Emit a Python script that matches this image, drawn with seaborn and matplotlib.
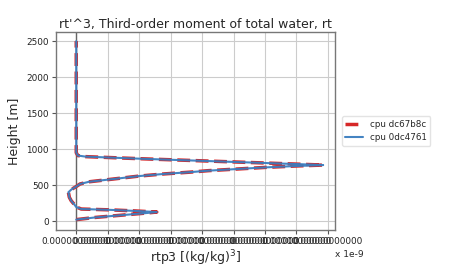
import numpy as np
import pandas as pd
import matplotlib
matplotlib.use("Agg")
import matplotlib.pyplot as plt
import seaborn as sns

# Heights [m] and rtp3 values (in units of 1e-9 tick spacing)
height = [20, 50, 80, 110, 125, 140, 155, 167, 195, 240, 282, 330, 400, 440, 480,
          515, 545, 570, 600, 625, 655, 680, 700, 720, 745, 765, 778,
          790, 805, 820, 835, 850, 865, 880, 895, 910, 950, 1000, 1250,
          1500, 1750, 2000, 2250, 2500]
rtp3_a = [0.0, 0.6, 1.4, 2.2, 2.56, 1.9, 1.1, 0.16, 0.0, -0.08, -0.16, -0.22, -0.25, -0.15, 0.0,
          0.12, 0.4, 0.9, 1.5, 2.0, 2.8, 3.64, 4.2, 5.0, 6.0, 7.0, 7.85,
          7.1, 6.1, 5.1, 4.1, 3.1, 2.1, 1.2, 0.3, 0.05, 0.0, 0.0, 0.0,
          0.0, 0.0, 0.0, 0.0, 0.0]
rtp3_b = list(rtp3_a)
series_names = ["cpu dc67b8c", "cpu 0dc4761"]
x_ticks = [0, 1, 2, 3, 4, 5, 6, 7, 8]
x_tick_labels = ["0.00000000000"] * 9
y_ticks = [0, 500, 1000, 1500, 2000, 2500]

title = "rt'^3, Third-order moment of total water, rt"
xlabel = "rtp3 [(kg/kg)$^3$]"
ylabel = "Height [m]"

df = pd.concat([
    pd.DataFrame({"z": height, "v": rtp3_a, "case": series_names[0]}),
    pd.DataFrame({"z": height, "v": rtp3_b, "case": series_names[1]}),
])

sns.set_style("whitegrid")
plt.rcParams["font.family"] = ["DejaVu Sans"]

fig = plt.figure(figsize=(4.5, 2.7), dpi=100)
ax = fig.add_axes([0.124, 0.148, 0.62, 0.733])

ax.axvline(0, color="#666666", lw=1.0, zorder=1)
sns.lineplot(data=df[df.case == series_names[0]], x="v", y="z", sort=False,
             ax=ax, color="#d62728", lw=2.5, linestyle="--",
             label=series_names[0], estimator=None)
sns.lineplot(data=df[df.case == series_names[1]], x="v", y="z", sort=False,
             ax=ax, color="#3a7dbf", lw=1.5, alpha=0.95,
             label=series_names[1], estimator=None)

ax.set_xlim(-0.65, 8.22)
ax.set_ylim(-125, 2625)
ax.set_xticks(x_ticks)
ax.set_xticklabels(x_tick_labels)
ax.set_yticks(y_ticks)
ax.tick_params(axis="both", labelsize=6.4, length=3, width=0.8, color="#555555",
               labelcolor="#222222", left=True, bottom=True, pad=2)
for s in ax.spines.values():
    s.set_color("#777777")
    s.set_linewidth(1.0)
ax.grid(True, color="#cccccc", lw=0.8)

ax.set_title(title, fontsize=9, pad=3)
ax.set_xlabel(xlabel, fontsize=9, labelpad=2)
ax.set_ylabel(ylabel, fontsize=9, labelpad=4)
fig.text(0.744, 0.056, "x 1e-9", fontsize=6.5, ha="left", va="center")

leg = ax.legend(loc="center left", bbox_to_anchor=(1.01, 0.5), fontsize=6.3,
                frameon=True, handlelength=2.0)
leg.get_frame().set_edgecolor("#dddddd")

fig.savefig("out.png", dpi=100)
